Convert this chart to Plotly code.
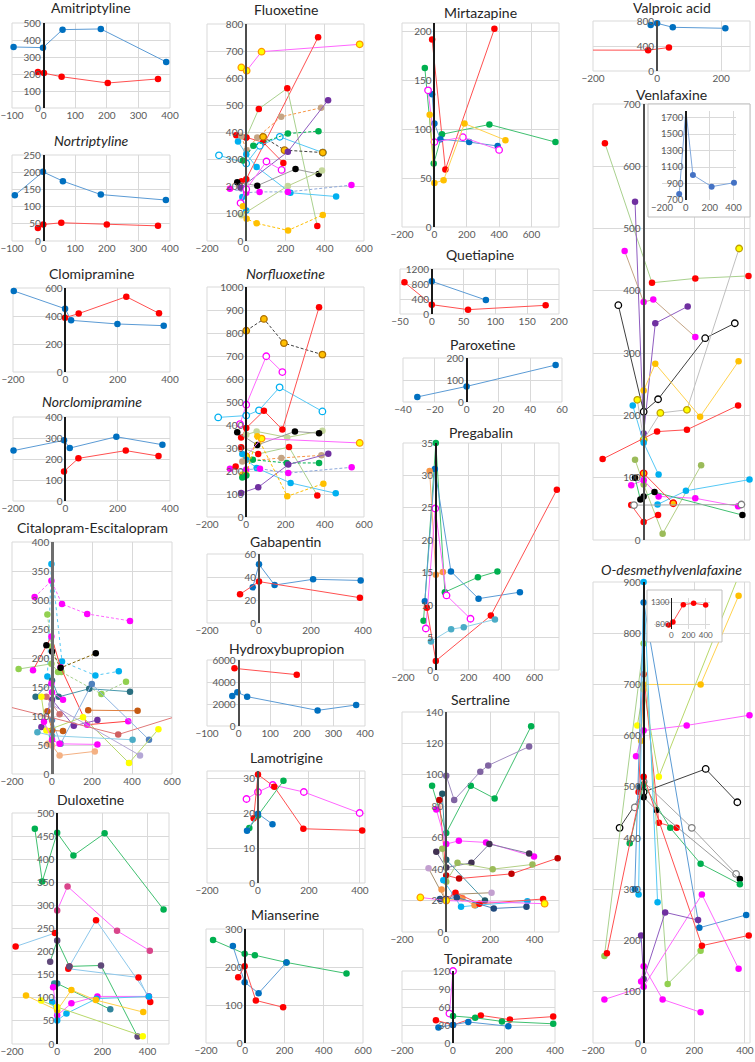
import plotly.graph_objects as go

W, H = 755, 1062

# ======================= DATA =======================
AMI_X = [[-95, -2, 60, 181, 388], [-18, 1, 57, 203, 362]]
AMI_Y = [[359, 355, 461, 465, 271], [212, 206, 184, 147, 171]]

NORT_X = [[-91, -2, 61, 181, 387], [-18, -1, 56, 200, 362]]
NORT_Y = [[133, 201, 174, 135, 119], [38, 48, 53, 48, 44]]

CLOMI_X = [[-197, -1, 22, 199, 376], [-1, 51, 233, 358]]
CLOMI_Y = [[579, 452, 369, 343, 331], [388, 417, 538, 419]]

NCLOMI_X = [[-198, -5, 17, 195, 371], [-5, 50, 231, 356]]
NCLOMI_Y = [[240, 289, 252, 306, 268], [141, 203, 240, 214]]

CITA_X = [[-87, -3, 50, 176, 390], [-23, -3, 50, 217, 334], [-167, -3, 30],
          [-23, -3, 47, 247, 370], [-95, -3, 43, 176, 381], [-28, 0, 43, 219],
          [-82, 0, 33, 186, 390], [0, 43, 199, 485], [-23, 0, 55], [181, 428],
          [-53, 0, 109, 227], [-28, 38], [-53, -28, 155, 385, 532], [-3, 440],
          [-20, 0, 38, 214], [-73, 0, 403], [-320, 331, 720], [-3, 0, 55],
          [-40, 0, 38, 227]]
CITA_Y = [[305, 333, 293, 276, 264], [168, 362, 194, 170, 177], [181, 190, 176],
          [275, 220, 176, 138, 159], [179, 237, 184, 85, 91], [222, 211, 183, 208],
          [133, 161, 133, 147, 142], [93, 52, 155, 59], [108, 75, 74], [110, 109],
          [81, 128, 83, 93], [133, 103], [133, 75, 98, 19, 77], [120, 32],
          [52, 49, 32, 39], [72, 66, 59], [125, 68, 110], [156, 141, 128],
          [90, 59, 52, 51]]

DULO_X = [[-99, -66, 0, 72, 210, 471], [0, 46, 265, 410], [-184, -10], [54, 172, 406],
          [49, 360, 412], [-31, 0, 54, 194, 356], [-13, 0, 235], [-18, 0, 63, 178, 406],
          [-22, 0, 41, 174, 406], [-138, 0, 63, 171, 381], [-71, 0, 379]]
DULO_Y = [[466, 352, 457, 408, 456, 291], [289, 341, 245, 202], [211, 240], [168, 268, 103],
          [163, 144, 91], [178, 224, 168, 170, 16], [131, 131, 75], [123, 62, 88, 103, 103],
          [91, 51, 66, 98, 103], [105, 73, 117, 95, 69], [94, 80, 17]]

FLUO_X = [[-25, 2, 78, 578], [-24, 0, 366], [-51, 0, 86, 189], [0, 64, 209, 362],
          [-25, 2, 56, 178, 381], [-139, 0, 69, 171, 390], [86, 195, 390],
          [-17, 36, 212, 368], [-42, 0, 53, 225, 458], [-20, 0], [-29, 212, 417],
          [-46, 56, 251, 369], [-24, 212, 386], [-83, 0, 68, 212, 536],
          [-29, 0, 103, 180], [-17, 2, 53, 213, 390]]
FLUO_Y = [[640, 628, 698, 725], [220, 228, 751], [390, 382, 364, 288], [382, 487, 563, 55],
          [385, 335, 382, 458, 491], [316, 286, 351, 384, 326], [384, 335, 326],
          [297, 351, 396, 405], [367, 320, 273, 178, 164], [162, 112], [196, 329, 519],
          [217, 204, 265, 247], [95, 203, 260], [193, 178, 181, 181, 206],
          [140, 191, 293, 262], [128, 82, 65, 39, 96]]

NORF_X = [[0, 90, 192, 388], [-32, 0, 102, 184], [-143, 0, 65, 170, 388],
          [-26, 0, 90, 184, 371], [0, 53, 209, 388], [-46, 56, 248, 371], [0, 78, 578],
          [-26, 61, 218, 362], [-20, 0, 53, 226, 456], [-20, 179, 383], [34, 206, 371],
          [-26, 61, 214, 418], [-83, 0, 70, 214, 537], [-20, 0, 56, 209, 393], [-20, 0],
          [-54]]
NORF_Y = [[810, 861, 756, 706], [404, 488, 699, 630], [433, 441, 464, 564, 459],
          [346, 387, 462, 380, 912], [358, 372, 346, 375], [368, 313, 372, 364], [264, 341, 322],
          [303, 274, 304, 94], [274, 249, 213, 148, 103], [241, 257, 268], [249, 235, 235],
          [104, 129, 228, 275], [210, 206, 210, 191, 216], [184, 184, 351, 90, 145], [172, 180],
          [220]]

GABA_X = [[-24, 0, 60, 208, 391], [-73, 0, 388]]
GABA_Y = [[31, 51, 33, 38, 37], [25, 36, 22]]

HYDR_X = [[-13, 184], [-20, -4, 27, 250, 372]]
HYDR_Y = [[5240, 4670], [2730, 3060, 2670, 1420, 1910]]

LAMO_X = [[-45, 0, 58, 180, 399], [-17, 0, 64, 178, 409], [-34, 0, 100], [-43, 0, 57]]
LAMO_Y = [[24, 26, 28, 26, 20], [18.5, 31, 27.5, 15.5, 15], [15.7, 19.3, 29.2], [14.9, 19.8, 16.8]]

MIAN_X = [[-164, -3, 49, 210, 516], [-63, -3, 68, 210], [-36, -3, 54, 193]]
MIAN_Y = [[271, 235, 231, 212, 183], [255, 160, 131, 212], [173, 202, 112, 94]]

MIRT_X = [[-14, 68, 371], [-59, -4, 47, 340, 748], [-14, 0, 37, 215, 391],
          [-39, 0, 176, 400], [-29, 0, 57, 186, 439]]
MIRT_Y = [[192, 59, 203], [163, 65, 95, 105, 87], [136, 106, 90, 87, 83],
          [140, 87, 92, 79], [115, 45, 48, 106, 89]]

QUET_X = [[0, 85], [-43, 0, 57, 179]]
QUET_Y = [[871, 373], [844, 249, 116, 231]]

PARO_X = [[-31, 0, 56]]
PARO_Y = [[23, 71, 168]]

PREG_X = [[-75, 0, 55, 256, 375], [-67, -6, 92, 260, 512], [-38, 0, 43],
          [-61, -4, 65, 211], [-55, 0, 335, 737], [-30, 93, 170, 360]]
PREG_Y = [[7.6, 35, 12, 14.3, 15.2], [10.6, 31, 15.2, 11, 12], [30.7, 14.7, 15.1],
          [6.4, 24.9, 11.5, 7.9], [9.6, 1.4, 8.4, 27.8], [4.4, 6.3, 6.6, 7.8]]

SERT_X = [[-64, 0, 111, 219, 384], [0, 36, 154, 190, 375], [-18, 0, 175],
          [-31, 0, 58, 295, 504], [-45, 0, 57, 180, 397], [-45, 0, 114, 195, 375],
          [-18, 0, 51, 210, 390], [-80, 0, 36, 205], [-13, 67, 132, 367], [-21, 0, 73, 128],
          [0, 42, 150, 438], [-28, 0, 48, 215, 363], [-117, 0, 445]]
SERT_Y = [[93, 63, 93, 85, 131], [99.5, 84, 102, 106, 118], [88, 46, 20],
          [84, 36, 34, 37, 47], [78, 56, 58, 57, 48], [51, 41, 44, 56, 50],
          [53, 32, 44, 40, 43], [40.5, 19.5, 24, 25], [33, 16, 17, 19.5], [27, 20, 21.6, 17],
          [21, 25, 18, 21], [21, 21, 22, 15, 16], [22, 20, 18]]

TOPI_X = [[-14, 0], [-67, 0, 109, 223, 393], [0, 87, 192, 393], [-57, 0, 60, 217]]
TOPI_Y = [[49, 120], [38, 30, 46, 39, 44], [45, 42, 36, 32], [26, 30, 35, 28]]

VALP_X = [[-20, 0, 49, 213], [-270, -28, 37]]
VALP_Y = [[737, 763, 699, 683], [335, 333, 376]]

VENL_X = [[-153, 33, 204, 414], [-34, 0, 46, 174], [-75, 0, 38, 204], [-100, 0, 57, 243, 360],
          [-25, 0, 66, 171, 377], [0, 46, 223, 375], [-162, 53, 171, 373], [-43, 0, 59],
          [-34, 0, 75, 227], [-49, 0, 59, 204, 373], [-34, -13, 0, 43, 390], [55, 167, 418],
          [-49, 0, 57], [0, 117], [-38, 386]]
VENL_Y = [[637, 413, 420, 424], [543, 171, 348, 375], [464, 382, 386, 326], [377, 206, 226, 324, 348],
          [225, 161, 204, 209, 468], [240, 283, 198, 287], [130, 174, 177, 216], [216, 156, 105],
          [129, 89, 10, 120], [88, 96, 70, 67, 54], [100, 65, 70, 77, 40], [57, 79, 97],
          [56, 29, 40], [107, 59], [56, 57]]

VENL_IN_X = [[-56, 0, 59, 216, 403]]
VENL_IN_Y = [[773, 1793, 1004, 862, 910]]

ODV_X = [[-10, 0, 225, 375], [-25, 0, 60, 375], [-30, 0, 170, 418], [-20, 0, 60, 130],
         [-95, 0, 245, 370], [-35, 0, 190, 365], [-15, 0, 50, 380], [-55, 0, 105, 225, 380],
         [-155, 0, 95, 225], [-35, 0, 220, 405], [-20, 0, 55], [-155, 0, 230, 375],
         [-10, 0, 85, 215], [-145, 0, 230, 415], [-10, 0, 75, 225]]
ODV_Y = [[590, 700, 700, 873], [620, 690, 520, 912], [560, 610, 620, 640], [490, 720, 430, 420],
         [420, 490, 535, 470], [460, 510, 420, 330], [500, 480, 455, 320], [390, 505, 420, 350, 310],
         [170, 780, 115, 180], [300, 860, 225, 250], [290, 900, 275], [85, 110, 290, 145],
         [210, 125, 255, 240], [175, 520, 190, 210], [120, 150, 85, 60]]

ODV_IN_X = [[-30, 20, 140, 260, 400]]
ODV_IN_Y = [[790, 860, 1250, 1280, 1240]]

# ======================= STYLES =======================
# name: (marker fill, marker outline or None, line colour, dash)
PAL = {
    'blue': ('#0070C0', None, '#5B9BD5', 'solid'),
    'red': ('#FF0000', None, '#FF5050', 'solid'),
    'green': ('#00B050', None, '#40C070', 'solid'),
    'mag': ('#FF00FF', None, '#FF66FF', 'solid'),
    'mag_d': ('#FF00FF', None, '#FF66FF', '3px,2px'),
    'mag_o': ('#FFFFFF', '#FF00FF', '#FF66FF', 'solid'),
    'cyan': ('#00B0F0', None, '#55C8F5', 'solid'),
    'cyan_o': ('#FFFFFF', '#00B0F0', '#55C8F5', 'solid'),
    'cyan_d': ('#00B0F0', None, '#55C8F5', 'dot'),
    'gold': ('#FFC000', None, '#FFD24D', 'solid'),
    'gold_d': ('#FFC000', None, '#FFC000', '3px,2px'),
    'yel': ('#FFFF00', None, '#B8D86A', 'solid'),
    'yelmag': ('#FFFF00', '#FF9900', '#FF66FF', 'solid'),
    'blk': ('#000000', None, '#9A9A9A', 'solid'),
    'blk_o': ('#FFFFFF', '#000000', '#404040', 'solid'),
    'gray_o': ('#FFFFFF', '#808080', '#A6A6A6', 'solid'),
    'pur': ('#7030A0', None, '#8F5CC0', 'solid'),
    'lpur': ('#8064A2', None, '#A08CC0', 'solid'),
    'dpur': ('#403151', None, '#8080A0', 'solid'),
    'lgreen': ('#92D050', None, '#A9D18E', 'solid'),
    'lgreen_d': ('#92D050', None, '#A9D18E', '3px,2px'),
    'olive': ('#9BBB59', None, '#B3CF85', 'solid'),
    'pale': ('#C4D79B', None, '#B8D08A', 'solid'),
    'teal': ('#2A6F80', None, '#4A9AAE', 'solid'),
    'dteal': ('#215968', None, '#4A9AAE', 'solid'),
    'steel': ('#4F81BD', None, '#8DB4E2', 'solid'),
    'brown': ('#C55A11', None, '#E08040', 'solid'),
    'salmon': ('#D07070', None, '#E09090', 'solid'),
    'lav': ('#B4A7D6', None, '#B4A7D6', 'solid'),
    'peach': ('#F4B183', None, '#F4B183', 'solid'),
    'lcyan': ('#4BACC6', None, '#8FD0E8', 'solid'),
    'rosy': ('#D06060', None, '#E07878', 'solid'),
    'orange': ('#F79646', None, '#F9B07A', 'solid'),
    'tan_d': ('#C4A484', None, '#F79646', '3px,2px'),
    'orblk_d': ('#FFC000', '#B07000', '#404040', '3px,2px'),
    'grn_d': ('#00B050', None, '#00B050', '3px,2px'),
    'magred': ('#FF00FF', None, '#FF4040', 'solid'),
    'redlb': ('#FF0000', None, '#8DC8EC', 'solid'),
    'redlg': ('#FF0000', None, '#A9D18E', 'solid'),
    'slate_g': ('#60497A', None, '#40C070', 'solid'),
    'teal_g': ('#31859C', None, '#40C070', 'solid'),
    'pink': ('#D9458A', None, '#FF66FF', 'solid'),
    'blkbr_d': ('#000000', None, '#7F6000', '3px,2px'),
    'blkg': ('#000000', None, '#40C070', 'solid'),
    'darkred': ('#C00000', None, '#FF5050', 'solid'),
    'mauve': ('#C3A0D0', None, '#A5906E', 'solid'),
    'navy': ('#1F497D', None, '#4F81BD', 'solid'),
    'magblue_d': ('#FF00FF', None, '#8EA9DB', '3px,2px'),
    'redyel': ('#FFC000', '#FF0000', '#FF5050', 'solid'),
    'tanmag': ('#FF00FF', None, '#C4A484', 'solid'),
    'yelgray': ('#FFFF00', '#C0A000', '#BFBFBF', 'solid'),
    'inset': ('#4472C4', None, '#7FA7DC', 'solid'),
}

AMI_S = ['blue', 'red']
CITA_S = ['mag_d', 'cyan_d', 'lgreen', 'lgreen_d', 'magred', 'blkbr_d', 'teal', 'steel', 'brown',
          'brown', 'pur', 'salmon', 'yel', 'lav', 'peach', 'lcyan', 'rosy', 'mag', 'mag']
DULO_S = ['green', 'pink', 'redlb', 'redlb', 'redlb', 'slate_g', 'teal_g', 'mag', 'cyan', 'gold', 'yel']
FLUO_S = ['yelmag', 'red', 'red', 'redlg', 'tan_d', 'cyan_o', 'orblk_d', 'grn_d', 'cyan', 'cyan',
          'pur', 'blk', 'pale', 'magblue_d', 'mag_o', 'gold_d']
NORF_S = ['orblk_d', 'mag_o', 'cyan_o', 'red', 'pale', 'blk', 'yelmag', 'redlg', 'cyan', 'tan_d',
          'grn_d', 'pur', 'magblue_d', 'gold_d', 'green', 'red']
LAMO_S = ['mag_o', 'red', 'green', 'blue']
MIAN_S = ['green', 'blue', 'red']
MIRT_S = ['red', 'green', 'blue', 'mag_o', 'gold']
PREG_S = ['green', 'blue', 'orange', 'mag_o', 'red', 'lcyan']
SERT_S = ['green', 'lpur', 'dteal', 'darkred', 'mag', 'dpur', 'olive', 'mauve', 'cyan', 'orange',
          'red', 'navy', 'yelmag']
TOPI_S = ['mag_o', 'red', 'green', 'blue']
VENL_S = ['redlg', 'pur', 'tanmag', 'blk_o', 'yelgray', 'gold', 'red', 'cyan', 'olive', 'mag',
          'blkg', 'cyan', 'red', 'redyel', 'gray_o']
ODV_S = ['gold', 'yel', 'mag', 'red', 'blk_o', 'gray_o', 'blk', 'green', 'lgreen', 'blue', 'cyan',
         'mag', 'pur', 'red', 'mag']

GRID = '#D9D9D9'
AXLINE = '#1A1A1A'
TICKC = '#595959'
TITLEC = '#262626'
FONT = 'Lato'

fig = go.Figure()
layout = {}
annotations = []
shapes = []
count = [0]


def rng(a, b, s):
    out = []
    v = a
    while v <= b + 1e-9:
        out.append(v)
        v += s
    return out


def add_panel(box, xr, xt, yr, yt, X=None, Y=None, S=None, title=None, ty=None, italic=False,
              tfs=10, showx=True, frame=False, msize=6.5, zlw=1.6, zlc=AXLINE, boxline=True):
    count[0] += 1
    n = count[0]
    sfx = '' if n == 1 else str(n)
    l, t, r, b = box
    xd = [l / W, r / W]
    yd = [1 - b / H, 1 - t / H]
    if frame:
        layout['xaxis' + sfx] = dict(domain=xd, range=[0, 1], anchor='y' + sfx, visible=False)
        layout['yaxis' + sfx] = dict(domain=yd, range=[0, 1], anchor='x' + sfx, visible=False)
        fig.add_trace(go.Scatter(x=[], y=[], xaxis='x' + sfx, yaxis='y' + sfx, showlegend=False))
        shapes.append(dict(type='rect', xref='paper', yref='paper', x0=xd[0], x1=xd[1], y0=yd[0],
                           y1=yd[1], line=dict(color='#BFBFBF', width=1), layer='above'))
        return
    tf = dict(family=FONT, size=tfs, color=TICKC)
    layout['xaxis' + sfx] = dict(domain=xd, range=xr, anchor='y' + sfx, tickvals=xt, showgrid=True,
                                 gridcolor=GRID, gridwidth=1, zeroline=False, showline=False, ticks='',
                                 showticklabels=showx, tickfont=tf, ticklabeloverflow='allow',
                                 fixedrange=True)
    zp = (l + (0 - xr[0]) / (xr[1] - xr[0]) * (r - l)) / W
    layout['yaxis' + sfx] = dict(domain=yd, range=yr, anchor='free', position=zp, tickvals=yt,
                                 showgrid=True, gridcolor=GRID, gridwidth=1, zeroline=False,
                                 showline=True, linecolor=zlc, linewidth=zlw, ticks='',
                                 tickfont=tf, ticklabeloverflow='allow', fixedrange=True)
    if boxline:
        shapes.append(dict(type='rect', xref='paper', yref='paper', x0=xd[0], x1=xd[1], y0=yd[0],
                           y1=yd[1], line=dict(color=GRID, width=1), layer='below'))
    for xs, ys, s in zip(X, Y, S):
        mc, ml, lc, dash = PAL[s]
        out = any(v < xr[0] or v > xr[1] for v in xs)
        fig.add_trace(go.Scatter(
            x=xs, y=ys, mode='lines+markers', xaxis='x' + sfx, yaxis='y' + sfx,
            line=dict(color=lc, width=1, dash=dash),
            marker=dict(color=mc, size=msize, line=dict(color=ml or mc, width=1.3 if ml else 0)),
            cliponaxis=out, showlegend=False, hoverinfo='skip'))
    if title:
        txt = f'<i>{title}</i>' if italic else title
        annotations.append(dict(text=txt, x=(l + r) / 2 / W, y=1 - ty / H, xref='paper', yref='paper',
                                showarrow=False, xanchor='center', yanchor='middle',
                                font=dict(family=FONT, size=14, color=TITLEC)))


# ---------------- column 1 ----------------
add_panel((12, 23, 170, 108), [-100, 400], rng(-100, 400, 100), [0, 500], rng(0, 500, 100),
          AMI_X, AMI_Y, AMI_S, 'Amitriptyline', 8)
add_panel((12, 155, 170, 241), [-100, 400], rng(-100, 400, 100), [0, 250], rng(0, 250, 50),
          NORT_X, NORT_Y, AMI_S, 'Nortriptyline', 140, italic=True)
add_panel((13, 288, 170, 372), [-200, 400], rng(-200, 400, 200), [0, 600], rng(0, 600, 200),
          CLOMI_X, CLOMI_Y, AMI_S, 'Clomipramine', 273)
add_panel((13, 417, 170, 501), [-200, 400], rng(-200, 400, 200), [0, 400], rng(0, 400, 100),
          NCLOMI_X, NCLOMI_Y, AMI_S, 'Norclomipramine', 402, italic=True)
add_panel((12, 542, 172, 774), [-200, 600], rng(-200, 600, 200), [0, 400], rng(0, 400, 50),
          CITA_X, CITA_Y, CITA_S, 'Citalopram-Escitalopram', 527, zlw=2.6, zlc='#6E6E6E')
add_panel((12, 813, 169, 1044), [-200, 495], rng(-200, 400, 200), [0, 500], rng(0, 500, 50),
          DULO_X, DULO_Y, DULO_S, 'Duloxetine', 799)

# ---------------- column 2 ----------------
add_panel((207, 24, 364, 241), [-200, 600], rng(-200, 600, 200), [0, 800], rng(0, 800, 100),
          FLUO_X, FLUO_Y, FLUO_S, 'Fluoxetine', 10, zlc='#4D4D4D', zlw=2)
add_panel((207, 287, 364, 517), [-200, 600], rng(-200, 600, 200), [0, 1000], rng(0, 1000, 100),
          NORF_X, NORF_Y, NORF_S, 'Norfluoxetine', 273, italic=True)
add_panel((207, 554, 363, 623), [-200, 400], rng(-200, 400, 200), [0, 60], rng(0, 60, 20),
          GABA_X, GABA_Y, AMI_S, 'Gabapentin', 541, zlc='#4D4D4D', zlw=2)
add_panel((207, 660, 365, 726), [-100, 400], rng(-100, 400, 100), [0, 6000], rng(0, 6000, 2000),
          HYDR_X, HYDR_Y, ['red', 'blue'], 'Hydroxybupropion', 648, zlc='#4D4D4D', zlw=2)
add_panel((207, 771, 365, 883), [-200, 420], rng(-200, 400, 200), [0, 32], rng(0, 30, 10),
          LAMO_X, LAMO_Y, LAMO_S, 'Lamotrigine', 757, zlc='#4D4D4D', zlw=2)
add_panel((206, 929, 363, 1043), [-200, 600], rng(-200, 600, 200), [0, 300], rng(0, 300, 100),
          MIAN_X, MIAN_Y, MIAN_S, 'Mianserine', 914)

# ---------------- column 3 ----------------
add_panel((402, 23, 559, 227), [-200, 770], rng(-200, 600, 200), [0, 209], rng(0, 200, 50),
          MIRT_X, MIRT_Y, MIRT_S, 'Mirtazapine', 12)
add_panel((400, 269, 559, 314), [-50, 200], rng(-50, 200, 50), [0, 1200], rng(0, 1200, 400),
          QUET_X, QUET_Y, ['blue', 'red'], 'Quetiapine', 255)
add_panel((403, 358, 562, 402), [-40, 60], rng(-40, 60, 20), [0, 200], rng(0, 200, 100),
          PARO_X, PARO_Y, ['blue'], 'Paroxetine', 345)
add_panel((403, 443, 559, 670), [-200, 750], rng(-200, 600, 200), [0, 35], rng(0, 35, 5),
          PREG_X, PREG_Y, PREG_S, 'Pregabalin', 432)
add_panel((402, 712, 559, 932), [-200, 510], rng(-200, 400, 200), [0, 140], rng(0, 140, 20),
          SERT_X, SERT_Y, SERT_S, 'Sertraline', 699, zlc='#4D4D4D', zlw=2)
add_panel((402, 971, 555, 1043), [-200, 400], rng(-200, 400, 200), [0, 120], rng(0, 120, 30),
          TOPI_X, TOPI_Y, TOPI_S, 'Topiramate', 958)

# ---------------- column 4 ----------------
add_panel((593, 21, 750, 71), [-200, 290], rng(-200, 200, 200), [0, 800], rng(0, 800, 400),
          VALP_X, VALP_Y, ['blue', 'red'], 'Valproic acid', 8, zlc='#4D4D4D', zlw=2)
add_panel((593, 104, 750, 540), [-200, 420], rng(-200, 400, 200), [0, 700], rng(0, 700, 100),
          VENL_X, VENL_Y, VENL_S, 'Venlafaxine', 94, showx=False, zlc='#4D4D4D', zlw=2)
add_panel((648, 104, 750, 217), None, None, None, None, frame=True)
add_panel((662, 111, 736, 200), [-200, 420], rng(-200, 400, 200), [700, 1780], rng(700, 1700, 200),
          VENL_IN_X, VENL_IN_Y, ['inset'], tfs=9.5, msize=6, boxline=False)
add_panel((593, 582, 750, 1043), [-200, 420], rng(-200, 400, 200), [0, 900], rng(0, 900, 100),
          ODV_X, ODV_Y, ODV_S, 'O-desmethylvenlafaxine', 569, italic=True)
add_panel((647, 590, 722, 642), None, None, None, None, frame=True)
add_panel((654, 598, 710, 629), [-200, 450], [0, 200, 400], [700, 1400], [800, 1300],
          ODV_IN_X, ODV_IN_Y, ['red'], tfs=8, msize=5.5, boxline=False, zlw=1.2)

layout.update(dict(width=W, height=H, margin=dict(l=0, r=0, t=0, b=0, pad=0),
                   paper_bgcolor='white', plot_bgcolor='white', template='none',
                   showlegend=False, hovermode=False, annotations=annotations, shapes=shapes,
                   font=dict(family=FONT, color=TICKC)))
fig.update_layout(**layout)
fig.write_html('out.html', config={'displayModeBar': False},
               post_script="document.body.style.margin='0px';document.body.style.overflow='hidden';")
